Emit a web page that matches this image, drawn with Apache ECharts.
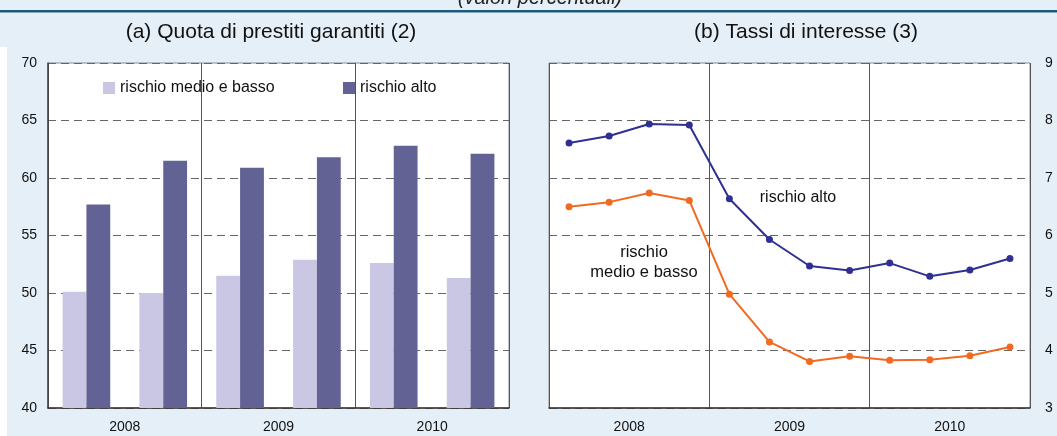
<!DOCTYPE html>
<html>
<head>
<meta charset="utf-8">
<script src="https://cdn.jsdelivr.net/npm/echarts@6/dist/echarts.min.js"></script>
<style>
  html, body { margin: 0; padding: 0; background: #e5eff7; }
  #chart { width: 1057px; height: 436px; }
</style>
</head>
<body>
<div id="chart"></div>
<script>
// (a) quota di prestiti garantiti, semestrale
const barCategories = ["2008-H1", "2008-H2", "2009-H1", "2009-H2", "2010-H1", "2010-H2"];
const barLowRisk = [50.1, 50.0, 51.5, 52.9, 52.6, 51.3];
const barHighRisk = [57.7, 61.5, 60.9, 61.8, 62.8, 62.1];

// (b) tassi di interesse, trimestrale
const lineCategories = [
  "2008-Q1", "2008-Q2", "2008-Q3", "2008-Q4",
  "2009-Q1", "2009-Q2", "2009-Q3", "2009-Q4",
  "2010-Q1", "2010-Q2", "2010-Q3", "2010-Q4"
];
const rateHighRisk = [7.61, 7.73, 7.94, 7.92, 6.64, 5.93, 5.47, 5.39, 5.52, 5.29, 5.40, 5.60];
const rateLowRisk = [6.50, 6.58, 6.74, 6.61, 4.98, 4.15, 3.81, 3.90, 3.83, 3.84, 3.91, 4.06];

const years = ["2008", "2009", "2010"];

const FONT = "Arial, 'Liberation Sans', sans-serif";
const chart = echarts.init(document.getElementById("chart"), undefined, { renderer: "canvas" });

const dashed = { show: true, lineStyle: { color: "#666", type: [8, 5], width: 1 } };
const titleStyle = { fontSize: 21, fontWeight: "normal", color: "#111", fontFamily: FONT };
const legendText = { fontSize: 16, color: "#111", fontFamily: FONT };

chart.setOption({
  animation: false,
  backgroundColor: "#e5eff7",
  textStyle: { fontFamily: FONT },
  title: [
    { text: "(a) Quota di prestiti garantiti (2)", left: 271, top: 22, textAlign: "center", padding: 0, textStyle: titleStyle },
    { text: "(b) Tassi di interesse (3)", left: 806, top: 22, textAlign: "center", padding: 0, textStyle: titleStyle }
  ],
  graphic: [
    { type: "rect", shape: { x: 0, y: 47, width: 7, height: 389 }, style: { fill: "#ffffff" }, silent: true },
    { type: "text", x: 540, y: 8, style: { text: "(valori percentuali)", fontSize: 20, fontStyle: "italic",
      fontFamily: FONT, fill: "#222", textAlign: "center", textVerticalAlign: "bottom" }, silent: true },
    { type: "rect", shape: { x: 0, y: 10, width: 1057, height: 2.5 }, style: { fill: "#1d5a7e" }, silent: true },
    { type: "text", x: 798, y: 198, style: { text: "rischio alto", fontSize: 16, fontFamily: FONT,
      fill: "#111", textAlign: "center", textVerticalAlign: "middle" }, silent: true },
    { type: "text", x: 644, y: 262, style: { text: "rischio\nmedio e basso", fontSize: 16.5, lineHeight: 20,
      fontFamily: FONT, fill: "#111", textAlign: "center", textVerticalAlign: "middle" }, silent: true }
  ],
  legend: [
    { data: ["rischio medio e basso"], left: 103, top: 80, padding: 0, itemGap: 0, itemWidth: 12, itemHeight: 12,
      icon: "rect", textStyle: legendText },
    { data: ["rischio alto"], left: 343, top: 80, padding: 0, itemGap: 0, itemWidth: 12, itemHeight: 12,
      icon: "rect", textStyle: legendText }
  ],
  grid: [
    { left: 48, top: 63, width: 461, height: 345, show: true, backgroundColor: "#fff", borderColor: "#8a8a8a", borderWidth: 1 },
    { left: 549, top: 63, width: 481, height: 345, show: true, backgroundColor: "#fff", borderColor: "#8a8a8a", borderWidth: 1 }
  ],
  xAxis: [
    { type: "category", gridIndex: 0, data: barCategories,
      axisLine: { lineStyle: { color: "#333", width: 1.5 } }, axisTick: { show: false }, axisLabel: { show: false } },
    { type: "category", gridIndex: 0, data: years, position: "bottom",
      axisLine: { show: false }, axisTick: { show: false },
      axisLabel: { margin: 12, fontSize: 14, color: "#111", fontFamily: FONT },
      splitLine: { show: true, lineStyle: { color: "#555", width: 1 } } },
    { type: "category", gridIndex: 1, data: lineCategories,
      axisLine: { lineStyle: { color: "#333", width: 1.5 } }, axisTick: { show: false }, axisLabel: { show: false } },
    { type: "category", gridIndex: 1, data: years, position: "bottom",
      axisLine: { show: false }, axisTick: { show: false },
      axisLabel: { margin: 12, fontSize: 14, color: "#111", fontFamily: FONT },
      splitLine: { show: true, lineStyle: { color: "#555", width: 1 } } }
  ],
  yAxis: [
    { type: "value", gridIndex: 0, min: 40, max: 70, interval: 5,
      axisLine: { show: true, lineStyle: { color: "#444", width: 1.5 } }, axisTick: { show: false },
      axisLabel: { fontSize: 14, color: "#111", margin: 11, fontFamily: FONT },
      splitLine: dashed },
    { type: "value", gridIndex: 1, min: 3, max: 9, interval: 1, position: "right",
      axisLine: { show: false }, axisTick: { show: false },
      axisLabel: { fontSize: 14, color: "#111", margin: 15, fontFamily: FONT },
      splitLine: dashed }
  ],
  series: [
    { name: "rischio medio e basso", type: "bar", xAxisIndex: 0, yAxisIndex: 0, data: barLowRisk,
      itemStyle: { color: "#c9c7e3" }, barGap: "0%", barCategoryGap: "38%" },
    { name: "rischio alto", type: "bar", xAxisIndex: 0, yAxisIndex: 0, data: barHighRisk,
      itemStyle: { color: "#626394" }, barGap: "0%", barCategoryGap: "38%" },
    { name: "tasso rischio alto", type: "line", xAxisIndex: 2, yAxisIndex: 1, data: rateHighRisk,
      symbol: "circle", symbolSize: 7, lineStyle: { color: "#2e3192", width: 2 }, itemStyle: { color: "#2e3192" } },
    { name: "tasso rischio medio e basso", type: "line", xAxisIndex: 2, yAxisIndex: 1, data: rateLowRisk,
      symbol: "circle", symbolSize: 7, lineStyle: { color: "#f26a21", width: 2 }, itemStyle: { color: "#f26a21" } }
  ]
});
</script>
</body>
</html>
